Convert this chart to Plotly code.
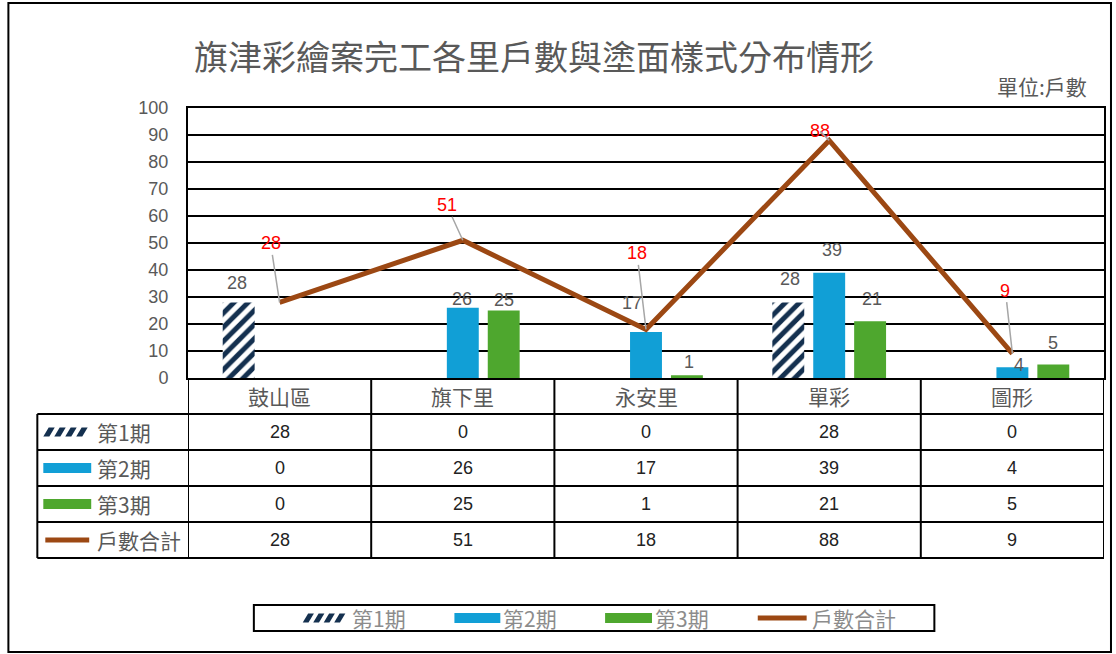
import plotly.graph_objects as go

# ---------------- data ----------------
categories = ["鼓山區", "旗下里", "永安里", "單彩", "圖形"]
phase1 = [28, 0, 0, 28, 0]
phase2 = [0, 26, 17, 39, 4]
phase3 = [0, 25, 1, 21, 5]
total = [28, 51, 18, 88, 9]
series_names = ["第1期", "第2期", "第3期", "戶數合計"]
y_ticks = [0, 10, 20, 30, 40, 50, 60, 70, 80, 90, 100]
title_text = "旗津彩繪案完工各里戶數與塗面樣式分布情形"
unit_text = "單位:戶數"

# ---------------- style ----------------
W_FIG, H_FIG = 1116, 654
L, R, T, B = 188, 1106, 108, 378
PW, PH = R - L, B - T
C_NAVY = "#14304f"
C_BLUE = "#119fd6"
C_GREEN = "#4ea72e"
C_BROWN = "#9c4813"
C_GRAY = "#595959"
C_LEG = "#8c8c8c"
FONT_NUM = "Liberation Sans, Arial, Noto Sans CJK TC"
FONT_CJK = "Noto Sans CJK TC, Liberation Sans"

# label offsets (px) relative to each bar's top centre: (dx, dy up)
bar_label_off = [
    [(-2, 19), None, None, (2, 23), None],
    [None, (-1, 9), (-14, 29), (3, 23), (7, 2)],
    [None, (0, 11), (2, 13), (2, 22), (0, 22)],
]
series_xshift = [-41, 0, 41]
line_label_off = [(-9, -59), (-16, -35), (-9, -76), (-9, -9), (-7, -63)]


def px(x):
    return (x - L) / PW


def py(y):
    return (B - y) / PH


fig = go.Figure()
fig.add_trace(go.Bar(
    x=categories, y=phase1, name=series_names[0],
    marker=dict(color="white", line=dict(width=0),
                pattern=dict(shape="/", fgcolor=C_NAVY, bgcolor="white",
                             fgopacity=1, fillmode="replace",
                             size=10, solidity=0.5)),
))
fig.add_trace(go.Bar(x=categories, y=phase2, name=series_names[1],
                     marker=dict(color=C_BLUE, line=dict(width=0))))
fig.add_trace(go.Bar(x=categories, y=phase3, name=series_names[2],
                     marker=dict(color=C_GREEN, line=dict(width=0))))
fig.add_trace(go.Scatter(x=categories, y=total, name=series_names[3],
                         mode="lines", line=dict(color=C_BROWN, width=5)))

ann = []
shapes = []


def text_ann(x, y, text, font, xref="paper", yref="paper", xanchor="center", **kw):
    d = dict(x=x, y=y, xref=xref, yref=yref, text=text, showarrow=False,
             xanchor=xanchor, yanchor="middle", font=font)
    d.update(kw)
    return d


# bar value labels
for s, vals in enumerate([phase1, phase2, phase3]):
    for i, v in enumerate(vals):
        off = bar_label_off[s][i]
        if v == 0 or off is None:
            continue
        ann.append(text_ann(categories[i], v, str(v),
                            dict(family=FONT_NUM, size=18, color=C_GRAY),
                            xref="x", yref="y",
                            xshift=series_xshift[s] + off[0], yshift=off[1]))

# total labels with leader lines
for i, v in enumerate(total):
    ax, ay = line_label_off[i]
    ann.append(dict(x=categories[i], y=v, xref="x", yref="y", text=str(v),
                    showarrow=True, arrowhead=0, arrowwidth=1.5,
                    arrowcolor="#a6a6a6", ax=ax, ay=ay, standoff=0,
                    font=dict(family=FONT_NUM, size=18, color="#ff0000")))

# title and unit
ann.append(text_ann(px(192), py(55), title_text,
                    dict(family=FONT_CJK, size=34, color=C_GRAY), xanchor="left"))
ann.append(text_ann(px(1091), py(86), unit_text,
                    dict(family=FONT_CJK, size=21, color=C_GRAY), xanchor="right"))

# ---------------- data table ----------------
row_edges = [414, 450, 486, 522, 558]
row_centers = [432, 468, 504, 540]
header_center = 396
line_style = dict(color="black", width=2)

for ye in row_edges:
    shapes.append(dict(type="line", xref="paper", yref="paper",
                       x0=px(37), x1=px(R), y0=py(ye), y1=py(ye), line=line_style))
shapes.append(dict(type="line", xref="paper", yref="paper",
                   x0=px(37), x1=px(37), y0=py(414), y1=py(558), line=line_style))
for k in range(len(categories) + 1):
    shapes.append(dict(type="line", xref="x", yref="paper",
                       x0=k - 0.5, x1=k - 0.5, y0=py(B), y1=py(558), line=line_style))

for i, c in enumerate(categories):
    ann.append(text_ann(c, py(header_center), c,
                        dict(family=FONT_CJK, size=21, color=C_GRAY), xref="x"))

for r, vals in enumerate([phase1, phase2, phase3, total]):
    ann.append(text_ann(px(95), py(row_centers[r]), series_names[r],
                        dict(family=FONT_CJK, size=21, color=C_GRAY), xanchor="left"))
    for i, v in enumerate(vals):
        ann.append(text_ann(categories[i], py(row_centers[r]), str(v),
                            dict(family=FONT_NUM, size=18, color="#222222"), xref="x"))


def stripes(x0, x1, yc, h, n):
    """hatched swatch made of slanted parallelograms"""
    out = []
    step = (x1 - x0) / n
    sw = step * 0.55
    sl = h * 0.6
    for k in range(n):
        a = x0 + k * step
        pts = [(a, yc + h / 2), (a + sw, yc + h / 2),
               (a + sw + sl, yc - h / 2), (a + sl, yc - h / 2)]
        path = "M " + " L ".join(f"{px(xx):.5f},{py(yy):.5f}" for xx, yy in pts) + " Z"
        out.append(dict(type="path", xref="paper", yref="paper", path=path,
                        fillcolor=C_NAVY, line=dict(width=0)))
    return out


def swatch(kind, x0, x1, yc):
    if kind == 0:
        return stripes(x0, x1 - 4, yc, 9, 4)
    if kind in (1, 2):
        col = C_BLUE if kind == 1 else C_GREEN
        return [dict(type="rect", xref="paper", yref="paper",
                     x0=px(x0), x1=px(x1), y0=py(yc + 5), y1=py(yc - 5),
                     fillcolor=col, line=dict(width=0))]
    return [dict(type="line", xref="paper", yref="paper",
                 x0=px(x0 + 2), x1=px(x1 - 2), y0=py(yc), y1=py(yc),
                 line=dict(color=C_BROWN, width=5))]


for r in range(4):
    shapes += swatch(r, 43, 91, row_centers[r])

# ---------------- bottom legend ----------------
shapes.append(dict(type="rect", xref="paper", yref="paper",
                   x0=px(254), x1=px(936), y0=py(605), y1=py(631),
                   line=dict(color="black", width=2), fillcolor="white"))
leg_sw = [(303, 349), (455, 501), (606, 653), (757, 810)]
for r in range(4):
    shapes += swatch(r, leg_sw[r][0], leg_sw[r][1], 618)
    ann.append(text_ann(px(leg_sw[r][1] + 1), py(618), series_names[r],
                        dict(family=FONT_CJK, size=21, color=C_LEG), xanchor="left"))

# outer frame
shapes.append(dict(type="rect", xref="paper", yref="paper",
                   x0=px(8), x1=px(1113), y0=py(3), y1=py(652),
                   line=dict(color="black", width=2)))

fig.update_layout(
    width=W_FIG, height=H_FIG,
    margin=dict(l=L, r=W_FIG - R, t=T, b=H_FIG - B),
    paper_bgcolor="white", plot_bgcolor="white",
    barmode="group", bargap=0.33, bargroupgap=0.22,
    showlegend=False,
    xaxis=dict(type="category", range=[-0.5, len(categories) - 0.5],
               showticklabels=False, showgrid=False, ticks="",
               showline=True, linecolor="black", linewidth=2, mirror=True,
               fixedrange=True),
    yaxis=dict(range=[0, 100], tickvals=y_ticks, ticks="",
               showgrid=True, gridcolor="black", gridwidth=2,
               zeroline=False,
               showline=True, linecolor="black", linewidth=2, mirror=True,
               tickfont=dict(family=FONT_NUM, size=18, color=C_GRAY),
               ticklabelstandoff=14, fixedrange=True),
    annotations=ann, shapes=shapes,
)

fig.write_html("out.html")
